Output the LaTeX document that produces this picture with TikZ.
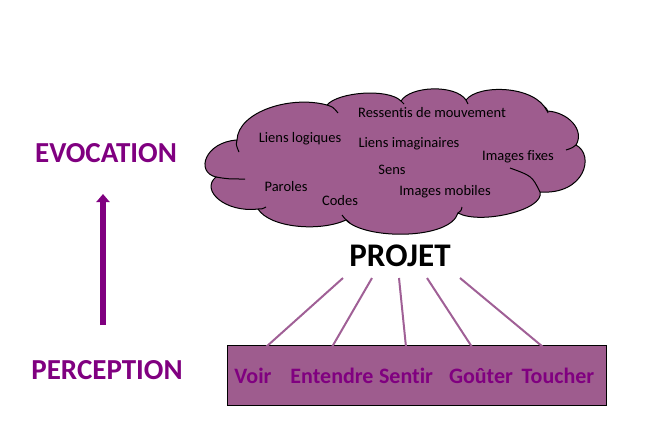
\documentclass[tikz,border=0pt]{standalone}
\usepackage{fontspec}
\setmainfont{Carlito}[Ligatures=NoCommon]
\usetikzlibrary{arrows.meta}
\definecolor{mauve}{RGB}{158,92,142}
\definecolor{linec}{RGB}{160,96,150}
\definecolor{darkpurple}{RGB}{128,0,128}
\tikzset{
  bigword/.style={text=darkpurple, font=\bfseries\fontsize{29}{33}\selectfont, inner sep=0pt, anchor=base},
  sense/.style={text=darkpurple, font=\bfseries\fontsize{22}{26}\selectfont, inner sep=0pt, anchor=base},
  cloudtext/.style={text=black, font=\fontsize{14.5}{17}\selectfont, inner sep=0pt},
  link/.style={draw=linec, line width=2pt},
  innerarc/.style={draw=black, line width=1pt},
  cloudline/.style={draw=black, line width=1pt, fill=mauve}
}
\begin{document}
\begin{tikzpicture}[x=1pt,y=-1pt]
\useasboundingbox (0,0) rectangle (666,440);
% cloud outline
\coordinate (j1) at (237,140);
\coordinate (j2) at (327,105);
\coordinate (j3) at (401,101);
\coordinate (j4) at (466,100);
\coordinate (j5) at (547,111);
\coordinate (j6) at (576,145);
\coordinate (j7) at (540,192);
\coordinate (j8) at (458,213);
\coordinate (j9) at (346,220);
\coordinate (j10) at (258,209);
\coordinate (j11) at (216,177);
\path[cloudline] (j1)
  .. controls (238,112) and (290,95) .. (j2)
  .. controls (338,92) and (388,88) .. (j3)
  .. controls (410,86) and (455,84) .. (j4)
  .. controls (478,84) and (535,85) .. (j5)
  .. controls (568,112) and (585,130) .. (j6)
  .. controls (595,155) and (585,195) .. (j7)
  .. controls (545,210) and (480,225) .. (j8)
  .. controls (450,240) and (365,240) .. (j9)
  .. controls (320,232) and (270,228) .. (j10)
  .. controls (225,213) and (200,190) .. (j11)
  .. controls (195,172) and (205,142) .. (j1) -- cycle;
% inner arcs of the cloud
\draw[innerarc] (j1) .. controls (236,145) .. (239,152);
\draw[innerarc] (j11) .. controls (228,179) .. (245,179);
\draw[innerarc] (j10) .. controls (262,209) .. (266,207);
\draw[innerarc] (342,215) .. controls (345,219) .. (350,223);
\draw[innerarc] (j8) .. controls (461,211) .. (462,207);
\draw[innerarc] (j7) .. controls (532,176) .. (510,168);
\draw[innerarc] (j6) .. controls (572,148) .. (566,150);
\draw[innerarc] (545,107) .. controls (547,109) .. (548,113);
\draw[innerarc] (j4) .. controls (467,102) .. (468,104);
\draw[innerarc] (j3) .. controls (402,102) .. (404,104);
\draw[innerarc] (j2) .. controls (333,107) .. (338,113);
% cloud texts
\node[cloudtext] (t1) at (432,113) {Ressentis de mouvement};
\node[cloudtext] (t2) at (300,139) {Liens logiques};
\node[cloudtext] (t3) at (409,144) {Liens imaginaires};
\node[cloudtext] (t4) at (518,157) {Images fixes};
\node[cloudtext] (t5) at (392,170) {Sens};
\node[cloudtext] (t6) at (286,187) {Paroles};
\node[cloudtext] (t7) at (340,201) {Codes};
\node[cloudtext] (t8) at (445,192) {Images mobiles};
% PROJET
\node[text=black, font=\bfseries\fontsize{33}{38}\selectfont, inner sep=0pt, anchor=base] (projet) at (400,266) {PROJET};
% box
\node[draw=black, line width=1pt, fill=mauve, minimum width=379pt, minimum height=60pt, inner sep=0pt] (box) at (416.5,375) {};
% link end points
\coordinate (p1) at (343,278); \coordinate (q1) at (266,347);
\coordinate (p2) at (372,278); \coordinate (q2) at (332,347);
\coordinate (p3) at (399,278); \coordinate (q3) at (406,347);
\coordinate (p4) at (427,278); \coordinate (q4) at (472,347);
\coordinate (p5) at (460,278); \coordinate (q5) at (543,347);
\draw[link] (p1) -- (q1);
\draw[link] (p2) -- (q2);
\draw[link] (p3) -- (q3);
\draw[link] (p4) -- (q4);
\draw[link] (p5) -- (q5);
% senses
\node[sense] (voir) at (253,383) {Voir};
\node[sense] (ent) at (332,383) {Entendre};
\node[sense] (sen) at (406,383) {Sentir};
\node[sense] (gou) at (481,383) {Goûter};
\node[sense] (tou) at (558,383) {Toucher};
% left side
\node[bigword] (evo) at (106,162) {EVOCATION};
\node[bigword] (per) at (107,379) {PERCEPTION};
\coordinate (abot) at (103,325);
\coordinate (atop) at (103,194);
\draw[darkpurple, line width=6pt, -{Triangle[width=13pt,length=8pt]}] (abot) -- (atop);
\end{tikzpicture}
\end{document}
